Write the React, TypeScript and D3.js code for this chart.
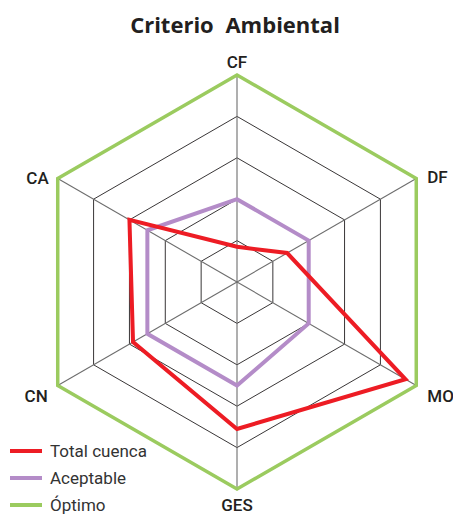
import React from "react";
import * as d3 from "d3";

const axes = ["CF", "DF", "MO", "GES", "CN", "CA"];
const totalCuenca = [0.17, 0.28, 0.94, 0.71, 0.58, 0.6];
const aceptable = [0.4, 0.4, 0.4, 0.5, 0.5, 0.5];
const optimo = [1, 1, 1, 1, 1, 1];
const gridLevels = [0.2, 0.4, 0.6, 0.8, 1.0];
const seriesNames = ["Total cuenca", "Aceptable", "Óptimo"];
const seriesColors = ["#ED1C24", "#B48CC8", "#9BCB5F"];

const W = 453;
const H = 515;
const cx = 237;
const cy = 282;
const R = 207;

export default function App() {
  const r = d3.scaleLinear().domain([0, 1]).range([0, R]);
  const angle = d3
    .scalePoint<string>()
    .domain(axes)
    .range([0, (2 * Math.PI * (axes.length - 1)) / axes.length]);
  const pt = (a: string, v: number): [number, number] => {
    const t = angle(a)!;
    return [cx + r(v) * Math.sin(t), cy - r(v) * Math.cos(t)];
  };
  const line = d3.line<[number, number]>().curve(d3.curveLinearClosed);
  const series = [optimo, aceptable, totalCuenca];
  const seriesIdx = [2, 1, 0];
  const widths = [3.5, 4, 4];

  const labelPos: Record<string, { dx: number; dy: number; anchor: string }> = {
    CF: { dx: 0, dy: -7, anchor: "middle" },
    DF: { dx: 11, dy: 4, anchor: "start" },
    MO: { dx: 11, dy: 16, anchor: "start" },
    GES: { dx: 0, dy: 22, anchor: "middle" },
    CN: { dx: -10, dy: 16, anchor: "end" },
    CA: { dx: -9, dy: 5, anchor: "end" },
  };

  return (
    <svg
      width={W}
      height={H}
      style={{ position: "absolute", left: 0, top: 0, background: "#fff" }}
      fontFamily="Roboto, sans-serif"
    >
      <text
        x={235}
        y={33}
        textAnchor="middle"
        fontSize={22}
        fontWeight={700}
        fill="#231F20"
        fontFamily="'Open Sans', sans-serif"
        wordSpacing={6}
      >
        Criterio Ambiental
      </text>
      {gridLevels.slice(0, -1).map((lv) => (
        <path
          key={lv}
          d={line(axes.map((a) => pt(a, lv)))!}
          fill="none"
          stroke="#231F20"
          strokeWidth={0.9}
        />
      ))}
      {axes.map((a) => {
        const [x, y] = pt(a, 1);
        return <line key={a} x1={cx} y1={cy} x2={x} y2={y} stroke="#6d6d6d" strokeWidth={1.1} />;
      })}
      {series.map((s, i) => (
        <path
          key={i}
          d={line(axes.map((a, j) => pt(a, s[j])))!}
          fill="none"
          stroke={seriesColors[seriesIdx[i]]}
          strokeWidth={widths[i]}
          strokeLinejoin="miter"
        />
      ))}
      {axes.map((a) => {
        const [x, y] = pt(a, 1);
        const p = labelPos[a];
        return (
          <text
            key={a}
            x={x + p.dx}
            y={y + p.dy}
            textAnchor={p.anchor}
            fontSize={17}
            fontWeight={500}
            fill="#231F20"
          >
            {a}
          </text>
        );
      })}
      {seriesNames.map((n, i) => (
        <g key={n} transform={`translate(10, ${451 + i * 27})`}>
          <line x1={0} x2={32} y1={0} y2={0} stroke={seriesColors[i]} strokeWidth={4} />
          <text x={40} y={6} fontSize={17} fill="#333">
            {n}
          </text>
        </g>
      ))}
    </svg>
  );
}
